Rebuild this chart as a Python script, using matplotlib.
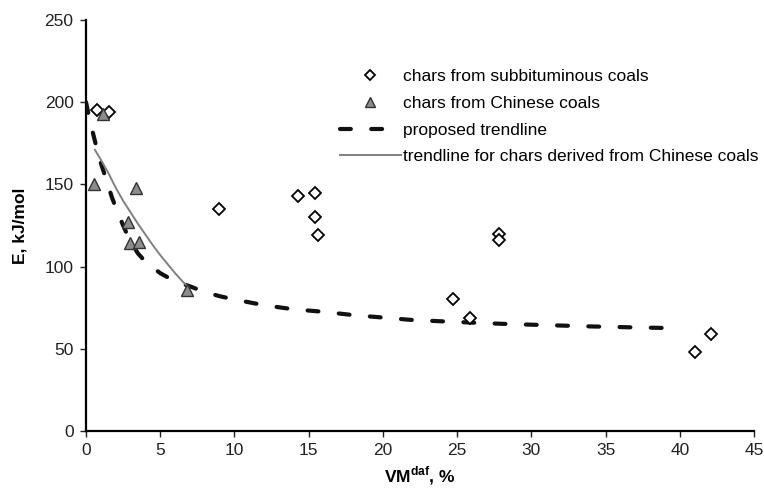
import numpy as np
import matplotlib
matplotlib.use("Agg")
from matplotlib import pyplot as plt

plt.rcParams['font.family'] = ['Liberation Sans', 'DejaVu Sans']
plt.rcParams['font.size'] = 12.5
plt.rcParams['mathtext.fontset'] = 'custom'
plt.rcParams['mathtext.rm'] = 'Liberation Sans'
plt.rcParams['mathtext.bf'] = 'Liberation Sans:bold'

# chars from subbituminous coals
sub_vm = [0.74, 1.55, 8.96, 14.3, 15.4, 15.4, 15.6, 27.8, 27.8, 24.7, 25.9, 41.0, 42.1]
sub_e = [195, 194, 135, 143, 145, 130, 119, 120, 116, 80, 69, 48, 59]

# chars from Chinese coals
cn_vm = [1.15, 0.55, 3.37, 2.85, 2.97, 3.57, 6.8]
cn_e = [193, 150, 148, 127, 114.5, 115, 86]

# proposed trendline
trend_vm = [0, 0.25, 0.5, 0.75, 1.0, 1.25, 1.5, 1.75, 2.0, 2.5, 3.0, 3.5, 4.0, 4.5,
            5.0, 5.5, 6.0, 7.0, 8.0, 9.0, 10, 12, 14, 16, 18, 20, 22, 25, 28, 31,
            34, 37, 40]
trend_e = [200, 189, 180, 171, 163, 156, 149, 142, 136, 125, 115, 108, 103, 99.5,
           96, 93.5, 91, 88, 84.5, 82, 80, 76.5, 74, 72.5, 70.5, 69, 67.5, 66.3,
           65.2, 64.4, 63.6, 63, 62.5]

# trendline for the Chinese coal chars
cn_fit_vm = [0.6, 1, 1.5, 2, 2.5, 3, 3.5, 4, 4.5, 5, 5.5, 6, 6.5, 6.9]
cn_fit_e = [171, 165, 157, 148, 140, 133, 126, 119.5, 113, 107, 101.5, 96, 91, 87.5]

xticks = [0, 5, 10, 15, 20, 25, 30, 35, 40, 45]
yticks = [0, 50, 100, 150, 200, 250]

fig = plt.figure(figsize=(7.64, 4.93), dpi=100)
ax = fig.add_axes([0.1126, 0.1258, 0.8743, 0.8336])

ax.plot(sub_vm, sub_e, linestyle='none', marker='D', markersize=6.5,
        markerfacecolor='white', markeredgecolor='black', markeredgewidth=1.3,
        label='chars from subbituminous coals', zorder=4)
ax.plot(cn_vm, cn_e, linestyle='none', marker='^', markersize=9,
        markerfacecolor='#8c8c8c', markeredgecolor='#333333', markeredgewidth=1.0,
        label='chars from Chinese coals', zorder=4)
ax.plot(trend_vm, trend_e, color='#111111', linewidth=3, dashes=(2.6, 4.9),
        dash_capstyle='round', label='proposed trendline', zorder=3)
ax.plot(cn_fit_vm, cn_fit_e, color='#808080', linewidth=1.4,
        label='trendline for chars derived from Chinese coals', zorder=3)

ax.set_xlim(0, 45)
ax.set_ylim(0, 250)
ax.set_xticks(xticks)
ax.set_yticks(yticks)
ax.spines['top'].set_visible(False)
ax.spines['right'].set_visible(False)
for s in ['left', 'bottom']:
    ax.spines[s].set_linewidth(1.6)
ax.tick_params(direction='out', length=4, width=1, colors='#222222', pad=5)

ax.set_xlabel(r'VM$^{\mathbf{daf}}$, %', fontweight='bold', labelpad=4)
ax.set_ylabel('E, kJ/mol', fontweight='bold', labelpad=12)

ax.legend(loc='upper left', bbox_to_anchor=(0.38, 0.88), frameon=False,
          borderpad=0, borderaxespad=0, handlelength=3.5, handletextpad=0.15,
          labelspacing=0.66, markerscale=0.75, fontsize=12.5)

fig.savefig('out.png', dpi=100)
